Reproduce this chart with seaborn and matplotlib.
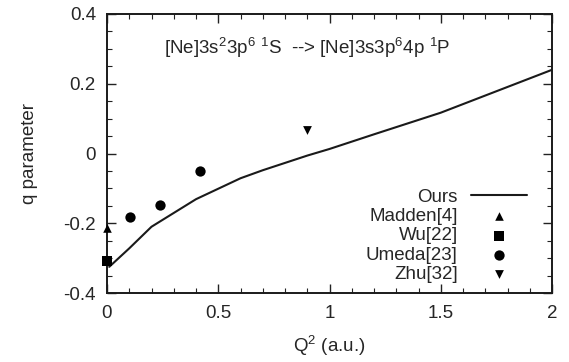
import numpy as np
import pandas as pd
import matplotlib
matplotlib.use("Agg")
import matplotlib.pyplot as plt
import seaborn as sns
from matplotlib.ticker import MultipleLocator

# Data
ours_q2 = [0.01, 0.1, 0.2, 0.4, 0.6, 0.7, 0.8, 0.9, 1.0, 1.2, 1.5, 2.0]
ours_q = [-0.325, -0.272, -0.210, -0.131, -0.071, -0.048, -0.027, -0.006, 0.013, 0.055, 0.117, 0.240]

madden_q2 = [0.0]
madden_q = [-0.215]
wu_q2 = [0.0]
wu_q = [-0.307]
umeda_q2 = [0.103, 0.238, 0.418]
umeda_q = [-0.181, -0.148, -0.050]
zhu_q2 = [0.897]
zhu_q = [0.067]

sns.set_style("ticks")
plt.rcParams["font.family"] = ["Liberation Sans", "DejaVu Sans"]
plt.rcParams["mathtext.fontset"] = "custom"
plt.rcParams["mathtext.rm"] = "Liberation Sans"
plt.rcParams["mathtext.it"] = "Liberation Sans:italic"

FS = 13.5

fig, ax = plt.subplots(figsize=(5.69, 3.62), dpi=100)
fig.subplots_adjust(left=107 / 569, right=552 / 569, top=1 - 14 / 362, bottom=1 - 293 / 362)

df_ours = pd.DataFrame({"x": ours_q2, "y": ours_q})
sns.lineplot(data=df_ours, x="x", y="y", ax=ax, color="#1a1a1a", linewidth=1.5, label="Ours")

points = [
    ("Madden[4]", madden_q2, madden_q, "^", 38),
    ("Wu[22]", wu_q2, wu_q, "s", 48),
    ("Umeda[23]", umeda_q2, umeda_q, "o", 55),
    ("Zhu[32]", zhu_q2, zhu_q, "v", 40),
]
for name, xs, ys, mk, sz in points:
    sns.scatterplot(x=xs, y=ys, ax=ax, marker=mk, s=sz, color="black",
                    edgecolor="black", linewidth=0, label=name, clip_on=False, zorder=5)

ax.set_xlim(0, 2)
ax.set_ylim(-0.4, 0.4)
ax.xaxis.set_major_locator(MultipleLocator(0.5))
ax.xaxis.set_minor_locator(MultipleLocator(0.1))
ax.yaxis.set_major_locator(MultipleLocator(0.2))
ax.yaxis.set_minor_locator(MultipleLocator(0.05))
ax.xaxis.set_major_formatter(lambda v, p: f"{v:g}")
ax.yaxis.set_major_formatter(lambda v, p: f"{v:g}" if abs(v) > 1e-9 else "0")
ax.tick_params(which="both", direction="in", top=True, right=True, labelsize=FS, color="#222222")
ax.tick_params(which="major", length=6.5, width=1)
ax.tick_params(axis="x", which="major", pad=9)
ax.tick_params(axis="y", which="major", pad=8)
ax.tick_params(which="minor", length=3.3, width=0.8)
for sp in ax.spines.values():
    sp.set_linewidth(1.4)
    sp.set_color("#1a1a1a")

ax.set_xlabel(r"Q$^2$ (a.u.)", fontsize=FS, labelpad=8)
ax.set_ylabel("q parameter", fontsize=FS, labelpad=18)

ax.text(0.449, 0.878, r"[Ne]3s$^2$3p$^6$ $^1$S  --> [Ne]3s3p$^6$4p $^1$P",
        transform=ax.transAxes, ha="center", va="center", fontsize=FS)

ax.legend(loc="lower right", bbox_to_anchor=(0.944, 0.035), frameon=False, markerfirst=False,
          fontsize=FS, handlelength=3.0, labelspacing=0.12, handletextpad=0.7,
          borderpad=0, borderaxespad=0)

fig.savefig("out.png", dpi=100)
